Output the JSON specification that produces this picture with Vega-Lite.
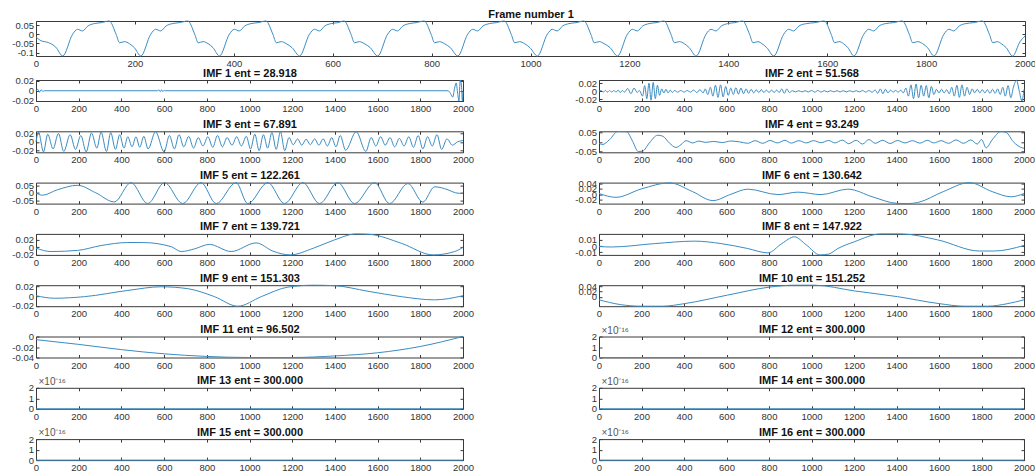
{
"$schema": "https://vega.github.io/schema/vega-lite/v6.json",
"padding": {"left": 3, "top": 7, "right": 5, "bottom": 2},
"background": "white",
"spacing": -3,
"config": {
  "font": "Liberation Sans",
  "view": {"stroke": "#3a3a3a", "strokeWidth": 1},
  "line": {"color": "#3a8cc2", "strokeWidth": 1, "interpolate": "monotone"},
  "axis": {"grid": false, "domain": false, "tickSize": -3, "tickColor": "#3a3a3a", "tickWidth": 1, "labelFont": "Liberation Sans", "labelFontSize": 9.5, "labelColor": "#333333", "labelOverlap": false, "labelFlush": false, "labelPadding": 5.5, "labelExpr": "toString(datum.value)", "titleFont": "Liberation Sans", "titleFontSize": 11, "titleFontWeight": "bold", "titleColor": "#111111", "titlePadding": 2},
  "axisLeft": {"minExtent": 32, "maxExtent": 32}
},
"vconcat": [
  {"width": 989, "height": 35,
   "data": {"values": [
{"x":0,"y":-0.015},{"x":10,"y":-0.035},{"x":25,"y":-0.045},{"x":40,"y":-0.07},{"x":54,"y":-0.118},
{"x":74,"y":0.0},{"x":84,"y":0.027},{"x":94,"y":0.018},{"x":105,"y":0.045},{"x":118,"y":0.058},{"x":132,"y":0.063},{"x":148,"y":0.072},
{"x":162,"y":0.0},{"x":169,"y":-0.046},{"x":179,"y":-0.04},{"x":189,"y":-0.051},{"x":199,"y":-0.073},{"x":212,"y":-0.118},
{"x":232,"y":0.0},{"x":242,"y":0.027},{"x":252,"y":0.018},{"x":263,"y":0.045},{"x":276,"y":0.058},{"x":290,"y":0.063},{"x":307,"y":0.072},
{"x":321,"y":0.0},{"x":328,"y":-0.046},{"x":338,"y":-0.04},{"x":348,"y":-0.051},{"x":358,"y":-0.073},{"x":371,"y":-0.118},
{"x":391,"y":0.0},{"x":401,"y":0.027},{"x":411,"y":0.018},{"x":422,"y":0.045},{"x":435,"y":0.058},{"x":449,"y":0.063},{"x":465,"y":0.072},
{"x":479,"y":0.0},{"x":486,"y":-0.046},{"x":496,"y":-0.04},{"x":506,"y":-0.051},{"x":518,"y":-0.073},{"x":533,"y":-0.118},
{"x":553,"y":0.0},{"x":563,"y":0.027},{"x":573,"y":0.018},{"x":584,"y":0.045},{"x":597,"y":0.058},{"x":610,"y":0.063},{"x":623,"y":0.072},
{"x":637,"y":0.0},{"x":644,"y":-0.046},{"x":654,"y":-0.04},{"x":664,"y":-0.051},{"x":676,"y":-0.073},{"x":691,"y":-0.118},
{"x":711,"y":0.0},{"x":721,"y":0.027},{"x":731,"y":0.018},{"x":742,"y":0.045},{"x":755,"y":0.058},{"x":769,"y":0.063},{"x":785,"y":0.072},
{"x":799,"y":0.0},{"x":806,"y":-0.046},{"x":816,"y":-0.04},{"x":826,"y":-0.051},{"x":838,"y":-0.073},{"x":853,"y":-0.118},
{"x":873,"y":0.0},{"x":883,"y":0.027},{"x":893,"y":0.018},{"x":904,"y":0.045},{"x":917,"y":0.058},{"x":931,"y":0.063},{"x":947,"y":0.072},
{"x":961,"y":0.0},{"x":968,"y":-0.046},{"x":978,"y":-0.04},{"x":988,"y":-0.051},{"x":999,"y":-0.073},{"x":1014,"y":-0.118},
{"x":1034,"y":0.0},{"x":1044,"y":0.027},{"x":1054,"y":0.018},{"x":1065,"y":0.045},{"x":1078,"y":0.058},{"x":1092,"y":0.063},{"x":1108,"y":0.072},
{"x":1122,"y":0.0},{"x":1129,"y":-0.046},{"x":1139,"y":-0.04},{"x":1149,"y":-0.051},{"x":1161,"y":-0.073},{"x":1176,"y":-0.118},
{"x":1196,"y":0.0},{"x":1206,"y":0.027},{"x":1216,"y":0.018},{"x":1227,"y":0.045},{"x":1240,"y":0.058},{"x":1254,"y":0.063},{"x":1270,"y":0.072},
{"x":1284,"y":0.0},{"x":1291,"y":-0.046},{"x":1301,"y":-0.04},{"x":1311,"y":-0.051},{"x":1321,"y":-0.073},{"x":1335,"y":-0.118},
{"x":1355,"y":0.0},{"x":1365,"y":0.027},{"x":1375,"y":0.018},{"x":1386,"y":0.045},{"x":1399,"y":0.058},{"x":1413,"y":0.063},{"x":1429,"y":0.072},
{"x":1443,"y":0.0},{"x":1450,"y":-0.046},{"x":1460,"y":-0.04},{"x":1468,"y":-0.051},{"x":1478,"y":-0.073},{"x":1492,"y":-0.118},
{"x":1512,"y":0.0},{"x":1522,"y":0.027},{"x":1532,"y":0.018},{"x":1543,"y":0.045},{"x":1558,"y":0.058},{"x":1575,"y":0.063},{"x":1594,"y":0.072},
{"x":1608,"y":0.0},{"x":1615,"y":-0.046},{"x":1624,"y":-0.04},{"x":1633,"y":-0.051},{"x":1642,"y":-0.073},{"x":1654,"y":-0.118},
{"x":1674,"y":0.0},{"x":1684,"y":0.027},{"x":1694,"y":0.018},{"x":1705,"y":0.045},{"x":1718,"y":0.058},{"x":1734,"y":0.063},{"x":1752,"y":0.072},
{"x":1766,"y":0.0},{"x":1773,"y":-0.046},{"x":1783,"y":-0.04},{"x":1793,"y":-0.051},{"x":1803,"y":-0.073},{"x":1816,"y":-0.118},
{"x":1836,"y":0.0},{"x":1846,"y":0.027},{"x":1856,"y":0.018},{"x":1867,"y":0.045},{"x":1880,"y":0.058},{"x":1896,"y":0.063},{"x":1914,"y":0.072},
{"x":1928,"y":0.0},{"x":1935,"y":-0.046},{"x":1944,"y":-0.04},{"x":1952,"y":-0.051},{"x":1962,"y":-0.073},{"x":1975,"y":-0.118},
{"x":1990,"y":-0.04},{"x":2000,"y":-0.01}
   ]},
   "layer": [
    {"mark": {"type": "line"},
     "encoding": {
      "x": {"field": "x", "type": "quantitative", "scale": {"domain": [0, 2000], "nice": false, "zero": false}, "axis": {"orient": "bottom", "values": [0,200,400,600,800,1000,1200,1400,1600,1800,2000], "title": null}},
      "y": {"field": "y", "type": "quantitative", "scale": {"domain": [-0.118, 0.072], "nice": false, "zero": false}, "axis": {"orient": "left", "values": [-0.1,-0.05,0,0.05], "title": null}}}},
    {"mark": {"type": "line", "strokeOpacity": 0},
     "encoding": {
      "x": {"field": "x", "type": "quantitative", "axis": {"orient": "top", "values": [0,200,400,600,800,1000,1200,1400,1600,1800,2000], "labels": false, "title": "Frame number 1", "minExtent": 0, "maxExtent": 0}},
      "y": {"field": "y", "type": "quantitative", "axis": {"orient": "right", "values": [-0.1,-0.05,0,0.05], "labels": false, "title": null, "minExtent": 0, "maxExtent": 0}}}}
   ]},
  {"spacing": 3.3, "vconcat": [
   {"bounds": "flush", "spacing": 136, "hconcat": [
    {"width": 427, "height": 21,
     "data": {"values": [{"x":0,"y":0},{"x":8,"y":0.003},{"x":16,"y":-0.003},{"x":24,"y":0.002},{"x":32,"y":-0.001},{"x":40,"y":0},{"x":570,"y":0},{"x":576,"y":0.002},{"x":582,"y":-0.002},{"x":588,"y":0.002},{"x":594,"y":-0.002},{"x":600,"y":0.001},{"x":606,"y":0},{"x":1930,"y":0},{"x":1942,"y":-0.006},{"x":1952,"y":-0.013},{"x":1960,"y":0.004},{"x":1968,"y":0.016},{"x":1975,"y":-0.005},{"x":1981,"y":-0.021},{"x":1987,"y":0.022},{"x":1993,"y":0.01},{"x":1997,"y":-0.021},{"x":2000,"y":-0.002}]},
     "layer": [
      {"mark": {"type": "line"}, "encoding": {
        "x": {"field": "x", "type": "quantitative", "scale": {"domain": [0, 2000], "nice": false, "zero": false}, "axis": {"orient": "bottom", "values": [0,200,400,600,800,1000,1200,1400,1600,1800,2000], "title": null}},
        "y": {"field": "y", "type": "quantitative", "scale": {"domain": [-0.021, 0.022], "nice": false, "zero": false}, "axis": {"orient": "left", "values": [-0.02,0,0.02], "title": null}}}},
      {"mark": {"type": "line", "strokeOpacity": 0}, "encoding": {
        "x": {"field": "x", "type": "quantitative", "axis": {"orient": "top", "values": [0,200,400,600,800,1000,1200,1400,1600,1800,2000], "labels": false, "title": "IMF 1 ent = 28.918", "minExtent": 0, "maxExtent": 0}},
        "y": {"field": "y", "type": "quantitative", "axis": {"orient": "right", "values": [-0.02,0,0.02], "labels": false, "title": null, "minExtent": 0, "maxExtent": 0}}}}
     ]},
    {"width": 425, "height": 21,
     "data": {"values": [{"x":0,"y":0},{"x":10,"y":0.002},{"x":20,"y":-0.002},{"x":30,"y":0.002},{"x":40,"y":-0.002},{"x":50,"y":0.002},{"x":60,"y":-0.002},{"x":70,"y":0.002},{"x":80,"y":-0.002},{"x":90,"y":0.003},{"x":100,"y":-0.003},{"x":110,"y":0.002},{"x":120,"y":-0.002},{"x":135,"y":0.007},{"x":150,"y":-0.006},{"x":165,"y":0.008},{"x":180,"y":-0.003},{"x":190,"y":0.002},{"x":205,"y":-0.012},{"x":215,"y":0.014},{"x":225,"y":-0.018},{"x":235,"y":0.02},{"x":245,"y":-0.022},{"x":255,"y":0.022},{"x":265,"y":-0.018},{"x":275,"y":0.015},{"x":285,"y":-0.01},{"x":295,"y":0.006},{"x":305,"y":-0.004},{"x":315,"y":0.005},{"x":325,"y":-0.004},{"x":335,"y":0.003},{"x":345,"y":-0.003},{"x":355,"y":0.002},{"x":370,"y":-0.002},{"x":385,"y":0.002},{"x":400,"y":-0.002},{"x":415,"y":0.002},{"x":430,"y":-0.002},{"x":445,"y":0.003},{"x":460,"y":-0.003},{"x":475,"y":0.004},{"x":490,"y":-0.004},{"x":500,"y":0.006},{"x":512,"y":-0.008},{"x":524,"y":0.01},{"x":536,"y":-0.012},{"x":548,"y":0.015},{"x":560,"y":-0.015},{"x":572,"y":0.016},{"x":584,"y":-0.014},{"x":596,"y":0.012},{"x":608,"y":-0.01},{"x":620,"y":0.008},{"x":632,"y":-0.008},{"x":644,"y":0.009},{"x":656,"y":-0.007},{"x":668,"y":0.008},{"x":680,"y":-0.006},{"x":692,"y":0.006},{"x":704,"y":-0.005},{"x":716,"y":0.005},{"x":728,"y":-0.004},{"x":740,"y":0.004},{"x":752,"y":-0.003},{"x":764,"y":0.004},{"x":776,"y":-0.003},{"x":788,"y":0.003},{"x":800,"y":-0.003},{"x":812,"y":0.003},{"x":824,"y":-0.003},{"x":836,"y":0.003},{"x":848,"y":-0.003},{"x":860,"y":0.006},{"x":872,"y":-0.005},{"x":884,"y":0.006},{"x":896,"y":-0.003},{"x":910,"y":0.0015},{"x":925,"y":-0.0015},{"x":940,"y":0.0015},{"x":955,"y":-0.0015},{"x":970,"y":0.0015},{"x":985,"y":-0.0015},{"x":1000,"y":0.002},{"x":1015,"y":-0.002},{"x":1030,"y":0.002},{"x":1045,"y":-0.002},{"x":1060,"y":0.0015},{"x":1075,"y":-0.0015},{"x":1090,"y":0.0015},{"x":1105,"y":-0.0015},{"x":1120,"y":0.0015},{"x":1135,"y":-0.0015},{"x":1150,"y":0.0015},{"x":1165,"y":-0.0015},{"x":1180,"y":0.0015},{"x":1195,"y":-0.0015},{"x":1210,"y":0.0015},{"x":1225,"y":-0.0015},{"x":1240,"y":0.002},{"x":1255,"y":-0.002},{"x":1270,"y":0.002},{"x":1285,"y":-0.002},{"x":1300,"y":0.003},{"x":1312,"y":-0.005},{"x":1324,"y":0.006},{"x":1336,"y":-0.006},{"x":1348,"y":0.005},{"x":1360,"y":-0.004},{"x":1372,"y":0.003},{"x":1384,"y":-0.002},{"x":1396,"y":0.002},{"x":1408,"y":-0.002},{"x":1420,"y":0.003},{"x":1432,"y":-0.004},{"x":1444,"y":0.008},{"x":1456,"y":-0.012},{"x":1468,"y":0.016},{"x":1480,"y":-0.018},{"x":1492,"y":0.018},{"x":1504,"y":-0.016},{"x":1516,"y":0.015},{"x":1528,"y":-0.012},{"x":1540,"y":0.014},{"x":1552,"y":-0.016},{"x":1564,"y":0.012},{"x":1576,"y":-0.008},{"x":1588,"y":0.005},{"x":1600,"y":-0.004},{"x":1612,"y":0.005},{"x":1624,"y":-0.004},{"x":1636,"y":0.004},{"x":1648,"y":-0.006},{"x":1660,"y":0.01},{"x":1672,"y":-0.012},{"x":1684,"y":0.015},{"x":1696,"y":-0.015},{"x":1708,"y":0.016},{"x":1720,"y":-0.012},{"x":1732,"y":0.01},{"x":1744,"y":-0.008},{"x":1756,"y":0.006},{"x":1768,"y":-0.004},{"x":1780,"y":0.005},{"x":1792,"y":-0.004},{"x":1804,"y":0.004},{"x":1816,"y":-0.004},{"x":1828,"y":0.004},{"x":1840,"y":-0.005},{"x":1852,"y":0.005},{"x":1864,"y":-0.005},{"x":1876,"y":0.006},{"x":1888,"y":-0.008},{"x":1900,"y":0.01},{"x":1912,"y":-0.012},{"x":1925,"y":0.014},{"x":1938,"y":-0.016},{"x":1950,"y":0.01},{"x":1965,"y":0.027},{"x":1978,"y":0.0},{"x":1990,"y":-0.024},{"x":2000,"y":0.005}]},
     "layer": [
      {"mark": {"type": "line"}, "encoding": {
        "x": {"field": "x", "type": "quantitative", "scale": {"domain": [0, 2000], "nice": false, "zero": false}, "axis": {"orient": "bottom", "values": [0,200,400,600,800,1000,1200,1400,1600,1800,2000], "title": null}},
        "y": {"field": "y", "type": "quantitative", "scale": {"domain": [-0.024, 0.028], "nice": false, "zero": false}, "axis": {"orient": "left", "values": [-0.02,0,0.02], "title": null}}}},
      {"mark": {"type": "line", "strokeOpacity": 0}, "encoding": {
        "x": {"field": "x", "type": "quantitative", "axis": {"orient": "top", "values": [0,200,400,600,800,1000,1200,1400,1600,1800,2000], "labels": false, "title": "IMF 2 ent = 51.568", "minExtent": 0, "maxExtent": 0}},
        "y": {"field": "y", "type": "quantitative", "axis": {"orient": "right", "values": [-0.02,0,0.02], "labels": false, "title": null, "minExtent": 0, "maxExtent": 0}}}}
     ]}
   ]},
   {"bounds": "flush", "spacing": 136, "hconcat": [
    {"width": 427, "height": 21,
     "data": {"values": [{"x":0,"y":0.0},{"x":12,"y":0.023},{"x":35,"y":-0.024},{"x":55,"y":0.018},{"x":80,"y":-0.017},{"x":105,"y":0.02},{"x":130,"y":-0.023},{"x":160,"y":0.017},{"x":185,"y":-0.018},{"x":210,"y":0.015},{"x":235,"y":-0.024},{"x":260,"y":0.021},{"x":285,"y":-0.015},{"x":305,"y":0.023},{"x":330,"y":-0.023},{"x":350,"y":0.022},{"x":372,"y":-0.018},{"x":392,"y":0.017},{"x":412,"y":-0.015},{"x":430,"y":0.012},{"x":450,"y":-0.012},{"x":468,"y":0.012},{"x":486,"y":-0.013},{"x":505,"y":0.013},{"x":525,"y":-0.017},{"x":560,"y":0.024},{"x":600,"y":-0.024},{"x":625,"y":0.015},{"x":648,"y":-0.017},{"x":670,"y":0.017},{"x":692,"y":-0.012},{"x":715,"y":0.013},{"x":738,"y":-0.015},{"x":760,"y":0.01},{"x":782,"y":-0.01},{"x":805,"y":0.012},{"x":828,"y":-0.013},{"x":850,"y":0.015},{"x":873,"y":-0.012},{"x":895,"y":0.01},{"x":918,"y":-0.008},{"x":940,"y":0.012},{"x":962,"y":-0.01},{"x":985,"y":0.013},{"x":1005,"y":-0.017},{"x":1025,"y":0.018},{"x":1045,"y":-0.021},{"x":1065,"y":0.017},{"x":1085,"y":-0.015},{"x":1105,"y":0.022},{"x":1125,"y":-0.018},{"x":1145,"y":0.024},{"x":1165,"y":-0.021},{"x":1185,"y":0.01},{"x":1205,"y":-0.007},{"x":1225,"y":0.007},{"x":1245,"y":-0.008},{"x":1265,"y":0.006},{"x":1285,"y":-0.007},{"x":1305,"y":0.007},{"x":1325,"y":-0.008},{"x":1345,"y":0.007},{"x":1365,"y":-0.01},{"x":1385,"y":0.01},{"x":1405,"y":-0.012},{"x":1425,"y":0.015},{"x":1450,"y":-0.02},{"x":1500,"y":0.024},{"x":1545,"y":-0.023},{"x":1570,"y":0.01},{"x":1592,"y":-0.01},{"x":1614,"y":0.012},{"x":1636,"y":-0.008},{"x":1658,"y":0.01},{"x":1680,"y":-0.012},{"x":1702,"y":0.008},{"x":1724,"y":-0.01},{"x":1746,"y":0.012},{"x":1768,"y":-0.013},{"x":1790,"y":0.015},{"x":1812,"y":-0.017},{"x":1834,"y":0.012},{"x":1856,"y":-0.01},{"x":1878,"y":0.017},{"x":1900,"y":-0.018},{"x":1925,"y":0.007},{"x":1950,"y":-0.008},{"x":1975,"y":0.0},{"x":2000,"y":0.003}]},
     "layer": [
      {"mark": {"type": "line"}, "encoding": {
        "x": {"field": "x", "type": "quantitative", "scale": {"domain": [0, 2000], "nice": false, "zero": false}, "axis": {"orient": "bottom", "values": [0,200,400,600,800,1000,1200,1400,1600,1800,2000], "title": null}},
        "y": {"field": "y", "type": "quantitative", "scale": {"domain": [-0.025, 0.025], "nice": false, "zero": false}, "axis": {"orient": "left", "values": [-0.02,0,0.02], "title": null}}}},
      {"mark": {"type": "line", "strokeOpacity": 0}, "encoding": {
        "x": {"field": "x", "type": "quantitative", "axis": {"orient": "top", "values": [0,200,400,600,800,1000,1200,1400,1600,1800,2000], "labels": false, "title": "IMF 3 ent = 67.891", "minExtent": 0, "maxExtent": 0}},
        "y": {"field": "y", "type": "quantitative", "axis": {"orient": "right", "values": [-0.02,0,0.02], "labels": false, "title": null, "minExtent": 0, "maxExtent": 0}}}}
     ]},
    {"width": 425, "height": 21,
     "data": {"values": [{"x":0,"y":-0.006},{"x":15,"y":-0.015},{"x":50,"y":0.012},{"x":88,"y":0.055},{"x":130,"y":0.054},{"x":158,"y":0.003},{"x":185,"y":-0.052},{"x":205,"y":-0.05},{"x":237,"y":-0.006},{"x":276,"y":0.035},{"x":300,"y":0.03},{"x":331,"y":-0.006},{"x":362,"y":-0.03},{"x":386,"y":-0.015},{"x":410,"y":0.006},{"x":441,"y":-0.006},{"x":470,"y":0.004},{"x":500,"y":-0.003},{"x":540,"y":0.002},{"x":580,"y":-0.004},{"x":620,"y":0.004},{"x":660,"y":0.0},{"x":700,"y":-0.008},{"x":735,"y":0.006},{"x":770,"y":-0.008},{"x":805,"y":0.007},{"x":840,"y":-0.006},{"x":875,"y":0.008},{"x":905,"y":-0.007},{"x":940,"y":0.006},{"x":975,"y":-0.006},{"x":1010,"y":0.006},{"x":1045,"y":-0.005},{"x":1080,"y":0.007},{"x":1110,"y":-0.006},{"x":1145,"y":0.009},{"x":1175,"y":-0.01},{"x":1210,"y":0.008},{"x":1240,"y":-0.012},{"x":1270,"y":0.012},{"x":1300,"y":-0.008},{"x":1335,"y":0.008},{"x":1370,"y":-0.009},{"x":1405,"y":0.007},{"x":1440,"y":-0.006},{"x":1475,"y":0.006},{"x":1510,"y":-0.007},{"x":1545,"y":0.008},{"x":1575,"y":-0.006},{"x":1610,"y":0.006},{"x":1645,"y":-0.008},{"x":1680,"y":0.01},{"x":1715,"y":-0.008},{"x":1750,"y":0.01},{"x":1780,"y":-0.012},{"x":1800,"y":0.012},{"x":1822,"y":-0.032},{"x":1850,"y":0.01},{"x":1892,"y":0.055},{"x":1916,"y":0.05},{"x":1950,"y":0.0},{"x":1994,"y":-0.033},{"x":2000,"y":-0.034}]},
     "layer": [
      {"mark": {"type": "line"}, "encoding": {
        "x": {"field": "x", "type": "quantitative", "scale": {"domain": [0, 2000], "nice": false, "zero": false}, "axis": {"orient": "bottom", "values": [0,200,400,600,800,1000,1200,1400,1600,1800,2000], "title": null}},
        "y": {"field": "y", "type": "quantitative", "scale": {"domain": [-0.056, 0.056], "nice": false, "zero": false}, "axis": {"orient": "left", "values": [-0.05,0,0.05], "title": null}}}},
      {"mark": {"type": "line", "strokeOpacity": 0}, "encoding": {
        "x": {"field": "x", "type": "quantitative", "axis": {"orient": "top", "values": [0,200,400,600,800,1000,1200,1400,1600,1800,2000], "labels": false, "title": "IMF 4 ent = 93.249", "minExtent": 0, "maxExtent": 0}},
        "y": {"field": "y", "type": "quantitative", "axis": {"orient": "right", "values": [-0.05,0,0.05], "labels": false, "title": null, "minExtent": 0, "maxExtent": 0}}}}
     ]}
   ]},
   {"bounds": "flush", "spacing": 136, "hconcat": [
    {"width": 427, "height": 21,
     "data": {"values": [{"x":0,"y":-0.001},{"x":30,"y":-0.016},{"x":100,"y":0.02},{"x":195,"y":0.05},{"x":280,"y":0.0},{"x":367,"y":-0.061},{"x":445,"y":0.068},{"x":523,"y":-0.072},{"x":602,"y":0.068},{"x":687,"y":-0.072},{"x":773,"y":0.068},{"x":844,"y":-0.072},{"x":937,"y":0.068},{"x":992,"y":-0.072},{"x":1086,"y":0.068},{"x":1164,"y":-0.072},{"x":1250,"y":0.068},{"x":1328,"y":-0.072},{"x":1414,"y":0.068},{"x":1492,"y":-0.072},{"x":1586,"y":0.068},{"x":1656,"y":-0.072},{"x":1742,"y":0.062},{"x":1812,"y":-0.062},{"x":1867,"y":0.04},{"x":1930,"y":0.02},{"x":1965,"y":0.0},{"x":2000,"y":-0.005}]},
     "layer": [
      {"mark": {"type": "line"}, "encoding": {
        "x": {"field": "x", "type": "quantitative", "scale": {"domain": [0, 2000], "nice": false, "zero": false}, "axis": {"orient": "bottom", "values": [0,200,400,600,800,1000,1200,1400,1600,1800,2000], "title": null}},
        "y": {"field": "y", "type": "quantitative", "scale": {"domain": [-0.072, 0.068], "nice": false, "zero": false}, "axis": {"orient": "left", "values": [-0.05,0,0.05], "title": null}}}},
      {"mark": {"type": "line", "strokeOpacity": 0}, "encoding": {
        "x": {"field": "x", "type": "quantitative", "axis": {"orient": "top", "values": [0,200,400,600,800,1000,1200,1400,1600,1800,2000], "labels": false, "title": "IMF 5 ent = 122.261", "minExtent": 0, "maxExtent": 0}},
        "y": {"field": "y", "type": "quantitative", "axis": {"orient": "right", "values": [-0.05,0,0.05], "labels": false, "title": null, "minExtent": 0, "maxExtent": 0}}}}
     ]},
    {"width": 425, "height": 21,
     "data": {"values": [{"x":0,"y":0.003},{"x":80,"y":-0.011},{"x":200,"y":0.02},{"x":332,"y":0.042},{"x":440,"y":0.01},{"x":536,"y":-0.023},{"x":620,"y":0.0},{"x":700,"y":0.019},{"x":842,"y":-0.001},{"x":936,"y":0.008},{"x":1045,"y":-0.001},{"x":1171,"y":0.019},{"x":1290,"y":-0.01},{"x":1400,"y":-0.033},{"x":1450,"y":-0.034},{"x":1500,"y":-0.03},{"x":1620,"y":0.01},{"x":1743,"y":0.043},{"x":1850,"y":0.01},{"x":1939,"y":-0.009},{"x":2000,"y":0.003}]},
     "layer": [
      {"mark": {"type": "line"}, "encoding": {
        "x": {"field": "x", "type": "quantitative", "scale": {"domain": [0, 2000], "nice": false, "zero": false}, "axis": {"orient": "bottom", "values": [0,200,400,600,800,1000,1200,1400,1600,1800,2000], "title": null}},
        "y": {"field": "y", "type": "quantitative", "scale": {"domain": [-0.034, 0.043], "nice": false, "zero": false}, "axis": {"orient": "left", "values": [-0.02,0,0.02,0.04], "title": null}}}},
      {"mark": {"type": "line", "strokeOpacity": 0}, "encoding": {
        "x": {"field": "x", "type": "quantitative", "axis": {"orient": "top", "values": [0,200,400,600,800,1000,1200,1400,1600,1800,2000], "labels": false, "title": "IMF 6 ent = 130.642", "minExtent": 0, "maxExtent": 0}},
        "y": {"field": "y", "type": "quantitative", "axis": {"orient": "right", "values": [-0.02,0,0.02,0.04], "labels": false, "title": null, "minExtent": 0, "maxExtent": 0}}}}
     ]}
   ]},
   {"bounds": "flush", "spacing": 136, "hconcat": [
    {"width": 427, "height": 21,
     "data": {"values": [{"x":0,"y":-0.002},{"x":70,"y":-0.011},{"x":195,"y":-0.008},{"x":305,"y":0.005},{"x":430,"y":0.013},{"x":500,"y":0.013},{"x":633,"y":0.002},{"x":680,"y":-0.011},{"x":742,"y":-0.004},{"x":812,"y":0.008},{"x":914,"y":-0.011},{"x":1031,"y":0.012},{"x":1110,"y":-0.01},{"x":1190,"y":-0.02},{"x":1300,"y":-0.002},{"x":1398,"y":0.02},{"x":1500,"y":0.036},{"x":1560,"y":0.035},{"x":1711,"y":0.011},{"x":1860,"y":-0.02},{"x":1961,"y":-0.011},{"x":2000,"y":0.0}]},
     "layer": [
      {"mark": {"type": "line"}, "encoding": {
        "x": {"field": "x", "type": "quantitative", "scale": {"domain": [0, 2000], "nice": false, "zero": false}, "axis": {"orient": "bottom", "values": [0,200,400,600,800,1000,1200,1400,1600,1800,2000], "title": null}},
        "y": {"field": "y", "type": "quantitative", "scale": {"domain": [-0.02, 0.036], "nice": false, "zero": false}, "axis": {"orient": "left", "values": [-0.02,0,0.02], "title": null}}}},
      {"mark": {"type": "line", "strokeOpacity": 0}, "encoding": {
        "x": {"field": "x", "type": "quantitative", "axis": {"orient": "top", "values": [0,200,400,600,800,1000,1200,1400,1600,1800,2000], "labels": false, "title": "IMF 7 ent = 139.721", "minExtent": 0, "maxExtent": 0}},
        "y": {"field": "y", "type": "quantitative", "axis": {"orient": "right", "values": [-0.02,0,0.02], "labels": false, "title": null, "minExtent": 0, "maxExtent": 0}}}}
     ]},
    {"width": 425, "height": 21,
     "data": {"values": [{"x":0,"y":-0.0008},{"x":58,"y":-0.0015},{"x":262,"y":0.004},{"x":450,"y":0.008},{"x":575,"y":0.004},{"x":700,"y":-0.004},{"x":795,"y":-0.011},{"x":860,"y":0.004},{"x":920,"y":0.015},{"x":975,"y":0.002},{"x":1040,"y":-0.0143},{"x":1080,"y":-0.013},{"x":1124,"y":-0.004},{"x":1202,"y":0.007},{"x":1327,"y":0.0197},{"x":1420,"y":0.0197},{"x":1594,"y":0.01},{"x":1790,"y":-0.008},{"x":1860,"y":-0.008},{"x":2000,"y":0.001}]},
     "layer": [
      {"mark": {"type": "line"}, "encoding": {
        "x": {"field": "x", "type": "quantitative", "scale": {"domain": [0, 2000], "nice": false, "zero": false}, "axis": {"orient": "bottom", "values": [0,200,400,600,800,1000,1200,1400,1600,1800,2000], "title": null}},
        "y": {"field": "y", "type": "quantitative", "scale": {"domain": [-0.0143, 0.0197], "nice": false, "zero": false}, "axis": {"orient": "left", "values": [-0.01,0,0.01], "title": null}}}},
      {"mark": {"type": "line", "strokeOpacity": 0}, "encoding": {
        "x": {"field": "x", "type": "quantitative", "axis": {"orient": "top", "values": [0,200,400,600,800,1000,1200,1400,1600,1800,2000], "labels": false, "title": "IMF 8 ent = 147.922", "minExtent": 0, "maxExtent": 0}},
        "y": {"field": "y", "type": "quantitative", "axis": {"orient": "right", "values": [-0.01,0,0.01], "labels": false, "title": null, "minExtent": 0, "maxExtent": 0}}}}
     ]}
   ]},
   {"bounds": "flush", "spacing": 136, "hconcat": [
    {"width": 427, "height": 21,
     "data": {"values": [{"x":0,"y":0.001},{"x":86,"y":-0.0043},{"x":227,"y":-0.001},{"x":430,"y":0.012},{"x":586,"y":0.0197},{"x":711,"y":0.0157},{"x":836,"y":-0.001},{"x":945,"y":-0.021},{"x":1055,"y":-0.001},{"x":1180,"y":0.019},{"x":1300,"y":0.023},{"x":1398,"y":0.022},{"x":1555,"y":0.0103},{"x":1711,"y":-0.001},{"x":1867,"y":-0.0077},{"x":2000,"y":0.001}]},
     "layer": [
      {"mark": {"type": "line"}, "encoding": {
        "x": {"field": "x", "type": "quantitative", "scale": {"domain": [0, 2000], "nice": false, "zero": false}, "axis": {"orient": "bottom", "values": [0,200,400,600,800,1000,1200,1400,1600,1800,2000], "title": null}},
        "y": {"field": "y", "type": "quantitative", "scale": {"domain": [-0.021, 0.023], "nice": false, "zero": false}, "axis": {"orient": "left", "values": [-0.02,0,0.02], "title": null}}}},
      {"mark": {"type": "line", "strokeOpacity": 0}, "encoding": {
        "x": {"field": "x", "type": "quantitative", "axis": {"orient": "top", "values": [0,200,400,600,800,1000,1200,1400,1600,1800,2000], "labels": false, "title": "IMF 9 ent = 151.303", "minExtent": 0, "maxExtent": 0}},
        "y": {"field": "y", "type": "quantitative", "axis": {"orient": "right", "values": [-0.02,0,0.02], "labels": false, "title": null, "minExtent": 0, "maxExtent": 0}}}}
     ]},
    {"width": 425, "height": 21,
     "data": {"values": [{"x":0,"y":-0.0105},{"x":100,"y":-0.028},{"x":200,"y":-0.034},{"x":300,"y":-0.034},{"x":402,"y":-0.0246},{"x":605,"y":0.007},{"x":803,"y":0.0365},{"x":920,"y":0.0435},{"x":1014,"y":0.0435},{"x":1202,"y":0.0224},{"x":1405,"y":0.0012},{"x":1602,"y":-0.0246},{"x":1719,"y":-0.034},{"x":1829,"y":-0.034},{"x":1920,"y":-0.025},{"x":2000,"y":-0.0105}]},
     "layer": [
      {"mark": {"type": "line"}, "encoding": {
        "x": {"field": "x", "type": "quantitative", "scale": {"domain": [0, 2000], "nice": false, "zero": false}, "axis": {"orient": "bottom", "values": [0,200,400,600,800,1000,1200,1400,1600,1800,2000], "title": null}},
        "y": {"field": "y", "type": "quantitative", "scale": {"domain": [-0.034, 0.0435], "nice": false, "zero": false}, "axis": {"orient": "left", "values": [0,0.02,0.04], "title": null}}}},
      {"mark": {"type": "line", "strokeOpacity": 0}, "encoding": {
        "x": {"field": "x", "type": "quantitative", "axis": {"orient": "top", "values": [0,200,400,600,800,1000,1200,1400,1600,1800,2000], "labels": false, "title": "IMF 10 ent = 151.252", "minExtent": 0, "maxExtent": 0}},
        "y": {"field": "y", "type": "quantitative", "axis": {"orient": "right", "values": [0,0.02,0.04], "labels": false, "title": null, "minExtent": 0, "maxExtent": 0}}}}
     ]}
   ]},
   {"bounds": "flush", "spacing": 136, "hconcat": [
    {"width": 427, "height": 21,
     "data": {"values": [{"x":0,"y":-0.006},{"x":200,"y":-0.015},{"x":400,"y":-0.025},{"x":600,"y":-0.033},{"x":800,"y":-0.038},{"x":1000,"y":-0.04},{"x":1200,"y":-0.04},{"x":1400,"y":-0.037},{"x":1600,"y":-0.031},{"x":1800,"y":-0.019},{"x":2000,"y":0.0}]},
     "layer": [
      {"mark": {"type": "line"}, "encoding": {
        "x": {"field": "x", "type": "quantitative", "scale": {"domain": [0, 2000], "nice": false, "zero": false}, "axis": {"orient": "bottom", "values": [0,200,400,600,800,1000,1200,1400,1600,1800,2000], "title": null}},
        "y": {"field": "y", "type": "quantitative", "scale": {"domain": [-0.04, 0.0], "nice": false, "zero": false}, "axis": {"orient": "left", "values": [-0.04,-0.02,0], "title": null}}}},
      {"mark": {"type": "line", "strokeOpacity": 0}, "encoding": {
        "x": {"field": "x", "type": "quantitative", "axis": {"orient": "top", "values": [0,200,400,600,800,1000,1200,1400,1600,1800,2000], "labels": false, "title": "IMF 11 ent = 96.502", "minExtent": 0, "maxExtent": 0}},
        "y": {"field": "y", "type": "quantitative", "axis": {"orient": "right", "values": [-0.04,-0.02,0], "labels": false, "title": null, "minExtent": 0, "maxExtent": 0}}}}
     ]},
    {"width": 425, "height": 21,
     "data": {"values": [{"x":0,"y":0},{"x":2000,"y":0}]},
     "layer": [
      {"mark": {"type": "line"}, "encoding": {
        "x": {"field": "x", "type": "quantitative", "scale": {"domain": [0, 2000], "nice": false, "zero": false}, "axis": {"orient": "bottom", "values": [0,200,400,600,800,1000,1200,1400,1600,1800,2000], "title": null}},
        "y": {"field": "y", "type": "quantitative", "scale": {"domain": [0, 2], "nice": false, "zero": false}, "axis": {"orient": "left", "values": [0,1,2], "title": "×10⁻¹⁶", "titleAngle": 0, "titleX": 2, "titleY": -1.5, "titleAlign": "left", "titleBaseline": "bottom", "titleFontSize": 10, "titleFontWeight": "normal", "titleColor": "#555555"}}}},
      {"mark": {"type": "line", "strokeOpacity": 0}, "encoding": {
        "x": {"field": "x", "type": "quantitative", "axis": {"orient": "top", "values": [0,200,400,600,800,1000,1200,1400,1600,1800,2000], "labels": false, "title": "IMF 12 ent = 300.000", "minExtent": 0, "maxExtent": 0}},
        "y": {"field": "y", "type": "quantitative", "axis": {"orient": "right", "values": [0,1,2], "labels": false, "title": null, "minExtent": 0, "maxExtent": 0}}}}
     ]}
   ]},
   {"bounds": "flush", "spacing": 136, "hconcat": [
    {"width": 427, "height": 21,
     "data": {"values": [{"x":0,"y":0},{"x":2000,"y":0}]},
     "layer": [
      {"mark": {"type": "line"}, "encoding": {
        "x": {"field": "x", "type": "quantitative", "scale": {"domain": [0, 2000], "nice": false, "zero": false}, "axis": {"orient": "bottom", "values": [0,200,400,600,800,1000,1200,1400,1600,1800,2000], "title": null}},
        "y": {"field": "y", "type": "quantitative", "scale": {"domain": [0, 2], "nice": false, "zero": false}, "axis": {"orient": "left", "values": [0,1,2], "title": "×10⁻¹⁶", "titleAngle": 0, "titleX": 2, "titleY": -1.5, "titleAlign": "left", "titleBaseline": "bottom", "titleFontSize": 10, "titleFontWeight": "normal", "titleColor": "#555555"}}}},
      {"mark": {"type": "line", "strokeOpacity": 0}, "encoding": {
        "x": {"field": "x", "type": "quantitative", "axis": {"orient": "top", "values": [0,200,400,600,800,1000,1200,1400,1600,1800,2000], "labels": false, "title": "IMF 13 ent = 300.000", "minExtent": 0, "maxExtent": 0}},
        "y": {"field": "y", "type": "quantitative", "axis": {"orient": "right", "values": [0,1,2], "labels": false, "title": null, "minExtent": 0, "maxExtent": 0}}}}
     ]},
    {"width": 425, "height": 21,
     "data": {"values": [{"x":0,"y":0},{"x":2000,"y":0}]},
     "layer": [
      {"mark": {"type": "line"}, "encoding": {
        "x": {"field": "x", "type": "quantitative", "scale": {"domain": [0, 2000], "nice": false, "zero": false}, "axis": {"orient": "bottom", "values": [0,200,400,600,800,1000,1200,1400,1600,1800,2000], "title": null}},
        "y": {"field": "y", "type": "quantitative", "scale": {"domain": [0, 2], "nice": false, "zero": false}, "axis": {"orient": "left", "values": [0,1,2], "title": "×10⁻¹⁶", "titleAngle": 0, "titleX": 2, "titleY": -1.5, "titleAlign": "left", "titleBaseline": "bottom", "titleFontSize": 10, "titleFontWeight": "normal", "titleColor": "#555555"}}}},
      {"mark": {"type": "line", "strokeOpacity": 0}, "encoding": {
        "x": {"field": "x", "type": "quantitative", "axis": {"orient": "top", "values": [0,200,400,600,800,1000,1200,1400,1600,1800,2000], "labels": false, "title": "IMF 14 ent = 300.000", "minExtent": 0, "maxExtent": 0}},
        "y": {"field": "y", "type": "quantitative", "axis": {"orient": "right", "values": [0,1,2], "labels": false, "title": null, "minExtent": 0, "maxExtent": 0}}}}
     ]}
   ]},
   {"bounds": "flush", "spacing": 136, "hconcat": [
    {"width": 427, "height": 21,
     "data": {"values": [{"x":0,"y":0},{"x":2000,"y":0}]},
     "layer": [
      {"mark": {"type": "line"}, "encoding": {
        "x": {"field": "x", "type": "quantitative", "scale": {"domain": [0, 2000], "nice": false, "zero": false}, "axis": {"orient": "bottom", "values": [0,200,400,600,800,1000,1200,1400,1600,1800,2000], "title": null}},
        "y": {"field": "y", "type": "quantitative", "scale": {"domain": [0, 2], "nice": false, "zero": false}, "axis": {"orient": "left", "values": [0,1,2], "title": "×10⁻¹⁶", "titleAngle": 0, "titleX": 2, "titleY": -1.5, "titleAlign": "left", "titleBaseline": "bottom", "titleFontSize": 10, "titleFontWeight": "normal", "titleColor": "#555555"}}}},
      {"mark": {"type": "line", "strokeOpacity": 0}, "encoding": {
        "x": {"field": "x", "type": "quantitative", "axis": {"orient": "top", "values": [0,200,400,600,800,1000,1200,1400,1600,1800,2000], "labels": false, "title": "IMF 15 ent = 300.000", "minExtent": 0, "maxExtent": 0}},
        "y": {"field": "y", "type": "quantitative", "axis": {"orient": "right", "values": [0,1,2], "labels": false, "title": null, "minExtent": 0, "maxExtent": 0}}}}
     ]},
    {"width": 425, "height": 21,
     "data": {"values": [{"x":0,"y":0},{"x":2000,"y":0}]},
     "layer": [
      {"mark": {"type": "line"}, "encoding": {
        "x": {"field": "x", "type": "quantitative", "scale": {"domain": [0, 2000], "nice": false, "zero": false}, "axis": {"orient": "bottom", "values": [0,200,400,600,800,1000,1200,1400,1600,1800,2000], "title": null}},
        "y": {"field": "y", "type": "quantitative", "scale": {"domain": [0, 2], "nice": false, "zero": false}, "axis": {"orient": "left", "values": [0,1,2], "title": "×10⁻¹⁶", "titleAngle": 0, "titleX": 2, "titleY": -1.5, "titleAlign": "left", "titleBaseline": "bottom", "titleFontSize": 10, "titleFontWeight": "normal", "titleColor": "#555555"}}}},
      {"mark": {"type": "line", "strokeOpacity": 0}, "encoding": {
        "x": {"field": "x", "type": "quantitative", "axis": {"orient": "top", "values": [0,200,400,600,800,1000,1200,1400,1600,1800,2000], "labels": false, "title": "IMF 16 ent = 300.000", "minExtent": 0, "maxExtent": 0}},
        "y": {"field": "y", "type": "quantitative", "axis": {"orient": "right", "values": [0,1,2], "labels": false, "title": null, "minExtent": 0, "maxExtent": 0}}}}
     ]}
   ]}
  ]}
]
}
